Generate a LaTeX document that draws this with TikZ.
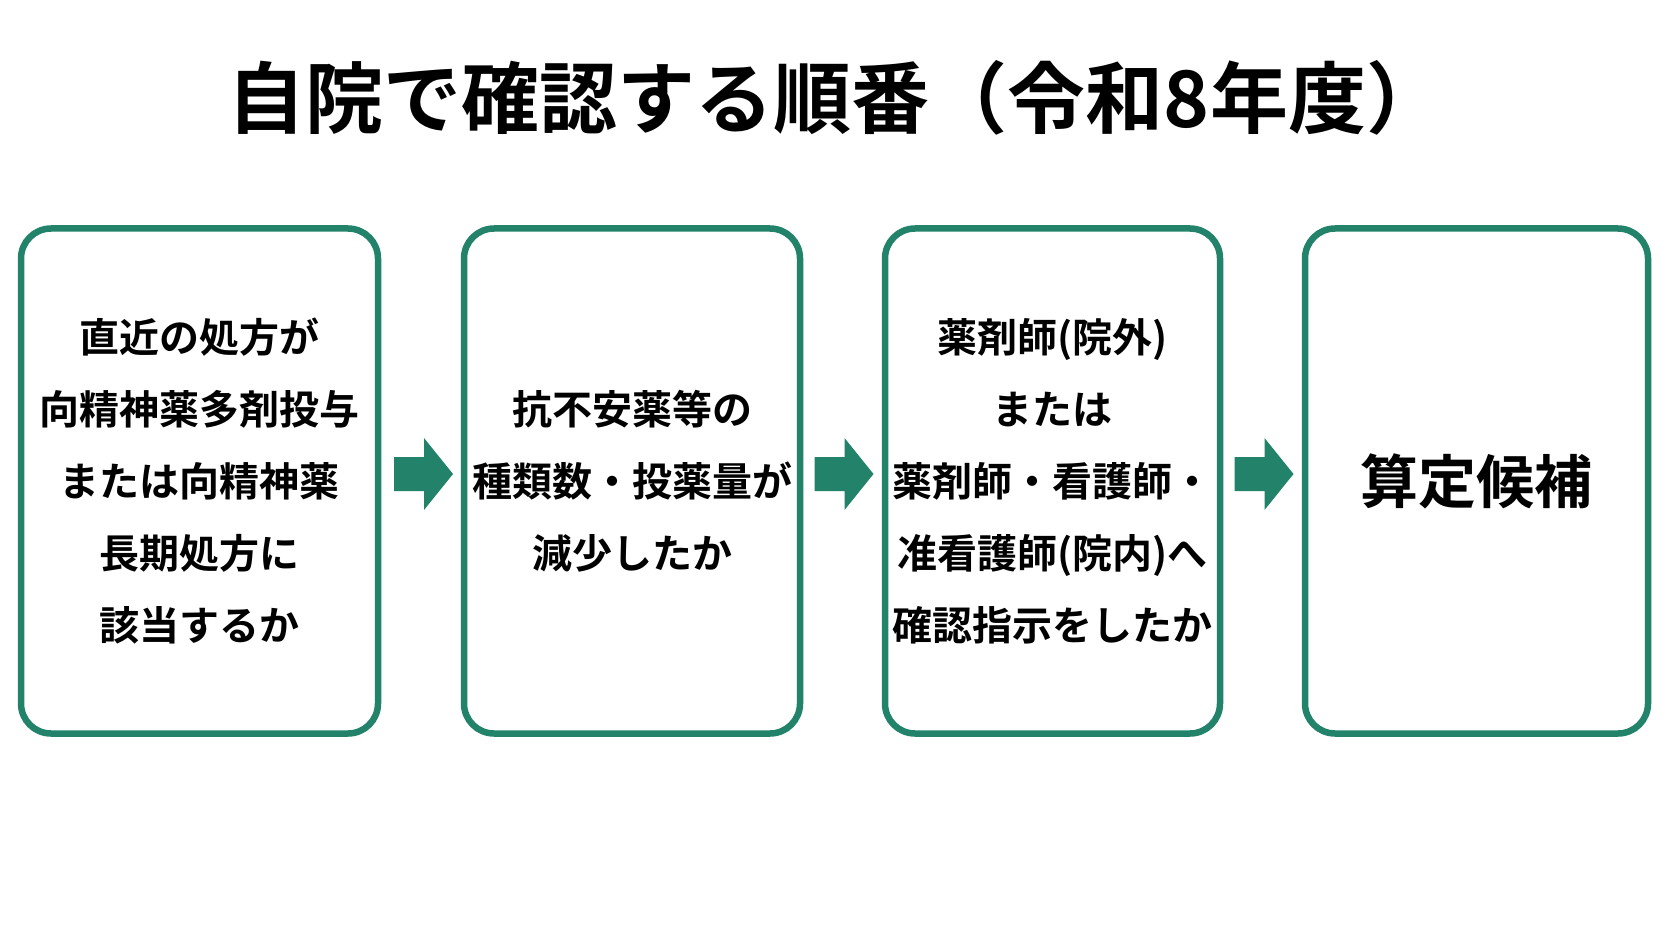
\documentclass[tikz,border=0pt]{standalone}
\usepackage{fontspec}
\setmainfont{Noto Sans CJK JP}[BoldFont={Noto Sans CJK JP Bold}]
\usetikzlibrary{positioning}
\definecolor{stepgreen}{HTML}{22826A}
\begin{document}
\begin{tikzpicture}[x=1pt,y=-1pt,
    stepbox/.style={draw=stepgreen,line width=6.5pt,rounded corners=30pt,minimum height=505pt,align=center,font=\fontsize{40}{72}\selectfont\bfseries},
    go/.style={fill=stepgreen}]
                \useasboundingbox (0,0) rectangle (1672,941);
                \node[font=\fontsize{78}{84}\selectfont\bfseries](title)at(836, 98){自院で確認する順番（令和8年度）};
                \node[stepbox,minimum width=357pt](s1)at(199.5, 481){直近の処方が\\向精神薬多剤投与\\または向精神薬\\長期処方に\\該当するか};
                \node[stepbox,minimum width=336pt](s2)at(632, 481){抗不安薬等の\\種類数・投薬量が\\減少したか};
                \node[stepbox,minimum width=335pt](s3)at(1052.5, 481){薬剤師(院外)\\または\\薬剤師・看護師・\\准看護師(院内)へ\\確認指示をしたか};
                \node[stepbox,minimum width=343pt,font=\fontsize{58}{60}\selectfont\bfseries](s4)at(1476.5, 481){算定候補};
                \coordinate (a1) at (423.5, 474);
                \coordinate (a2) at (844, 474);
                \coordinate (a3) at (1264, 474);
                \foreach \a in {a1,a2,a3}
                    \fill[go] (\a) ++(-29.5,-17) -- ++(30,0) -- ++(0,-19) -- ++(29,36) -- ++(-29,36) -- ++(0,-19) -- ++(-30,0) -- cycle;
            \end{tikzpicture}
\end{document}
